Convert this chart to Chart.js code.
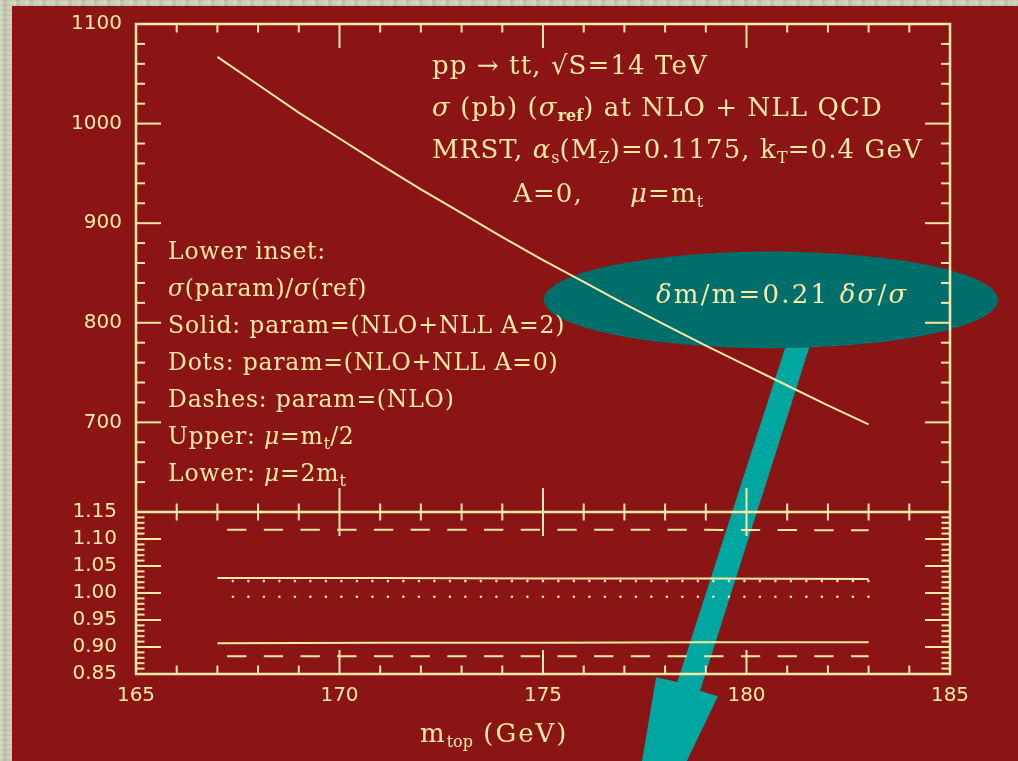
<!DOCTYPE html>
<html>
<head>
<meta charset="utf-8">
<script src="https://cdn.jsdelivr.net/npm/chart.js@4.4.0/dist/chart.umd.min.js"></script>
<style>
  html, body { margin: 0; padding: 0; }
  body {
    width: 1018px; height: 761px; overflow: hidden; position: relative;
    background-color: #cbccb6;
    background-image:
      repeating-linear-gradient(90deg, rgba(255,255,255,0.14) 0 3px, rgba(0,0,0,0.05) 3px 7px, rgba(255,255,255,0.05) 7px 13px),
      repeating-linear-gradient(0deg, rgba(0,0,0,0.04) 0 2px, rgba(255,255,255,0.06) 2px 5px);
  }
  #panel { position: absolute; left: 12px; top: 6px; right: 0; bottom: 0; background: #8a1514; }
  #chart { position: absolute; left: 0; top: 0; }
  .lbl {
    position: absolute; font-family: 'DejaVu Serif', serif; font-size: 23.5px;
    letter-spacing: 0.8px; color: #f8e9a6; white-space: pre; line-height: 1;
  }
  .big { font-size: 26px; letter-spacing: 1.1px; }
  .bub { font-size: 26px; letter-spacing: 2.2px; }
  .ttl { font-size: 26px; letter-spacing: 2px; }
  .lbl sub { font-size: 16px; vertical-align: -5px; line-height: 0; letter-spacing: 0; }
</style>
</head>
<body>
<div id="panel"></div>
<canvas id="chart" width="1018" height="761"></canvas>

<div class="lbl big" style="left:432px; top:52px">pp → tt, √S=14 TeV</div>
<div class="lbl big" style="left:432px; top:94px"><i>σ</i> (pb) (<i>σ</i><sub><b>ref</b></sub>) at NLO + NLL QCD</div>
<div class="lbl big" style="left:432px; top:136px">MRST, <i>α</i><sub>s</sub>(M<sub>Z</sub>)=0.1175, k<sub>T</sub>=0.4 GeV</div>
<div class="lbl big" style="left:513px; top:180px">A=0,</div>
<div class="lbl big" style="left:630px; top:180px"><i>μ</i>=m<sub>t</sub></div>

<div class="lbl" style="left:168px; top:240px">Lower inset:</div>
<div class="lbl" style="left:168px; top:277px"><i>σ</i>(param)/<i>σ</i>(ref)</div>
<div class="lbl" style="left:168px; top:314px">Solid: param=(NLO+NLL A=2)</div>
<div class="lbl" style="left:168px; top:351px">Dots: param=(NLO+NLL A=0)</div>
<div class="lbl" style="left:168px; top:388px">Dashes: param=(NLO)</div>
<div class="lbl" style="left:168px; top:425px">Upper: <i>μ</i>=m<sub>t</sub>/2</div>
<div class="lbl" style="left:168px; top:462px">Lower: <i>μ</i>=2m<sub>t</sub></div>

<div class="lbl bub" style="left:656px; top:281px"><i>δ</i>m/m=0.21 <i>δσ</i>/<i>σ</i></div>
<div class="lbl ttl" style="left:420px; top:720px">m<sub>top</sub> (GeV)</div>

<script>
// top mass (GeV) and cross section sigma (pb), NLO+NLL, A=0, mu=mt
const massPoints = [167, 168, 169, 170, 171, 172, 173, 174, 175, 176, 177, 178, 179, 180, 181, 182, 183];
const sigmaRef = [1067, 1039, 1011, 985, 959, 934, 910, 886, 863, 841, 819, 798, 777, 757, 737, 717, 698];

// lower inset: sigma(param)/sigma(ref)
const ratioMass = [167, 171, 175, 179, 183];
const solidUpper = [1.028, 1.028, 1.027, 1.027, 1.026];
const solidLower = [0.907, 0.908, 0.908, 0.909, 0.909];
const dotsUpper = [1.022, 1.022, 1.022, 1.022, 1.022];
const dotsLower = [0.993, 0.993, 0.993, 0.993, 0.993];
const dashUpper = [1.117, 1.117, 1.117, 1.117, 1.116];
const dashLower = [0.883, 0.883, 0.883, 0.883, 0.883];

const xTickLabels = [165, 170, 175, 180, 185];
const sigmaTickLabels = [700, 800, 900, 1000, 1100];
const ratioTickLabels = [0.85, 0.90, 0.95, 1.00, 1.05, 1.10, 1.15];

const cream = '#f8e9a6';

// callout ellipse (x in GeV, y in pb) and arrow outline (x in GeV, y on ratio axis)
const bubble = { x: 180.6, y: 823, rx: 5.58, ry: 48.5 };
const arrowOutline = [
  [181.09, 1.487], [181.68, 1.487], [178.86, 0.819], [179.30, 0.809],
  [176.84, 0.424], [177.78, 0.844], [178.30, 0.835]
];

function pairs(xs, ys) {
  return xs.map((x, i) => ({ x: x, y: ys[i] }));
}

function seg(ctx, x1, y1, x2, y2) {
  ctx.beginPath();
  ctx.moveTo(x1, y1);
  ctx.lineTo(x2, y2);
  ctx.stroke();
}

function noPad(s) {
  s.paddingTop = 0;
  s.paddingBottom = 0;
  s.paddingLeft = 0;
  s.paddingRight = 0;
}

const decor = {
  id: 'decor',
  beforeDatasetsDraw(chart) {
    const { ctx, chartArea: a } = chart;
    const { x, y, y2 } = chart.scales;
    ctx.save();

    // arrow, then the bubble over its tail
    ctx.fillStyle = '#00a6a0';
    ctx.beginPath();
    arrowOutline.forEach(([m, r], i) => {
      const px = x.getPixelForValue(m), py = y2.getPixelForValue(r);
      if (i === 0) ctx.moveTo(px, py); else ctx.lineTo(px, py);
    });
    ctx.closePath();
    ctx.fill();

    ctx.fillStyle = '#006e6a';
    const cx = x.getPixelForValue(bubble.x), cy = y.getPixelForValue(bubble.y);
    const rx = x.getPixelForValue(bubble.x + bubble.rx) - cx;
    const ry = cy - y.getPixelForValue(bubble.y + bubble.ry);
    ctx.beginPath();
    ctx.ellipse(cx, cy, rx, ry, 0, 0, Math.PI * 2);
    ctx.fill();

    // frame
    ctx.strokeStyle = cream;
    ctx.lineWidth = 2.5;
    ctx.strokeRect(a.left, a.top, a.right - a.left, a.bottom - a.top);
    const mid = y.bottom;
    seg(ctx, a.left, mid, a.right, mid);

    // ticks
    ctx.lineWidth = 2;
    for (let m = 166; m < 185; m++) {
      const len = m % 5 === 0 ? 24 : 8.5;
      const px = x.getPixelForValue(m);
      seg(ctx, px, a.top, px, a.top + len);
      seg(ctx, px, mid - len, px, mid + len);
      seg(ctx, px, a.bottom, px, a.bottom - len);
    }
    for (let v = 640; v < 1100; v += 20) {
      const len = v % 100 === 0 ? 25 : 9;
      const py = y.getPixelForValue(v);
      seg(ctx, a.left, py, a.left + len, py);
      seg(ctx, a.right, py, a.right - len, py);
    }
    for (let k = 86; k < 115; k++) {
      const len = k % 5 === 0 ? 25 : 8.5;
      const py = y2.getPixelForValue(k / 100);
      seg(ctx, a.left, py, a.left + len, py);
      seg(ctx, a.right, py, a.right - len, py);
    }
    ctx.restore();
  }
};

const tickFont = { family: 'DejaVu Sans', size: 20 };
const line = { borderColor: cream, borderWidth: 2, pointRadius: 0, tension: 0, fill: false };
const dots = { borderWidth: 2.6, borderDash: [0.01, 15.49], borderDashOffset: 0.01, borderCapStyle: 'round' };
const dashes = { borderDash: [19.3, 17.4], borderDashOffset: 27 };

new Chart(document.getElementById('chart'), {
  type: 'line',
  data: {
    datasets: [
      { ...line, data: pairs(massPoints, sigmaRef), yAxisID: 'y' },
      { ...line, data: pairs(ratioMass, solidUpper), yAxisID: 'y2' },
      { ...line, data: pairs(ratioMass, solidLower), yAxisID: 'y2' },
      { ...line, ...dots, data: pairs(ratioMass, dotsUpper), yAxisID: 'y2' },
      { ...line, ...dots, data: pairs(ratioMass, dotsLower), yAxisID: 'y2' },
      { ...line, ...dashes, data: pairs(ratioMass, dashUpper), yAxisID: 'y2' },
      { ...line, ...dashes, data: pairs(ratioMass, dashLower), yAxisID: 'y2' }
    ]
  },
  options: {
    responsive: false,
    devicePixelRatio: 1,
    animation: false,
    events: [],
    layout: { padding: { left: 0, top: 24, right: 68, bottom: 0 } },
    plugins: { legend: { display: false }, tooltip: { enabled: false } },
    scales: {
      x: {
        type: 'linear', min: 165, max: 185,
        afterBuildTicks: s => { s.ticks = xTickLabels.map(v => ({ value: v })); },
        afterFit: s => { s.height = 87; noPad(s); },
        grid: { display: false, drawTicks: false },
        border: { display: false },
        ticks: { color: cream, font: tickFont, padding: 10, maxRotation: 0, autoSkip: false,
          callback: v => String(v) }
      },
      y: {
        type: 'linear', position: 'left', stack: 'plot', stackWeight: 488, weight: 1,
        min: 610, max: 1100,
        afterBuildTicks: s => { s.ticks = sigmaTickLabels.map(v => ({ value: v })); },
        afterFit: s => { s.width = 136; noPad(s); },
        grid: { display: false, drawTicks: false },
        border: { display: false },
        ticks: { color: cream, font: tickFont, padding: 14, autoSkip: false,
          callback: v => String(v) }
      },
      y2: {
        type: 'linear', position: 'left', stack: 'plot', stackWeight: 162, weight: 0,
        min: 0.85, max: 1.15,
        afterBuildTicks: s => { s.ticks = ratioTickLabels.map(v => ({ value: v })); },
        afterFit: s => { s.width = 136; noPad(s); },
        grid: { display: false, drawTicks: false },
        border: { display: false },
        ticks: { color: cream, font: tickFont, padding: 19, autoSkip: false,
          callback: v => v.toFixed(2) }
      }
    }
  },
  plugins: [decor]
});
</script>
</body>
</html>
